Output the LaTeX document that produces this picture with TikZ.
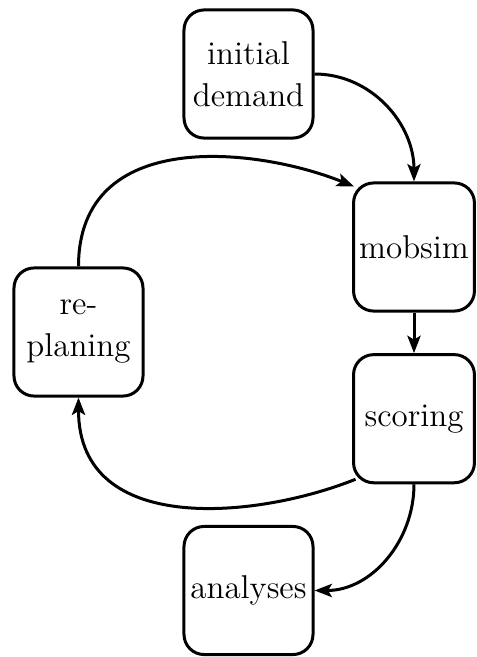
\documentclass[tikz,border=0pt]{standalone}
\usetikzlibrary{arrows.meta}
\begin{document}
\begin{tikzpicture}[x=0.3333pt,y=-0.3333pt,
  box/.style={draw, line width=1pt, rounded corners=6.7pt, align=center,
    minimum width=43pt, minimum height=42.7pt, inner sep=1pt,
    font=\fontsize{11pt}{14pt}\selectfont},
  rbox/.style={box, minimum width=40.3pt},
  conn/.style={line width=1pt, -{Stealth[length=5.8pt,width=4.4pt,inset=1.3pt]}}]
\useasboundingbox (0,0) rectangle (476,657);
\node[box]  (init)  at (248.5,74)  {initial\\demand};
\node[rbox] (mob)   at (414,247)   {mobsim};
\node[rbox] (score) at (414,418.7) {scoring};
\node[box]  (repl)  at (78.5,332)  {re-\\planing};
\node[box]  (ana)   at (248.5,590.5) {analyses};
\coordinate (mobin) at ([shift={(2,5)}]mob.north west);
\coordinate (scout) at ([shift={(3.5,-5)}]score.south west);
\draw[conn] (init) to[out=0,in=90] (mob);
\draw[conn] (mob) -- (score);
\draw[conn] (score) to[out=-90,in=0] (ana);
\draw[conn] (repl.north) .. controls +(0,-140) and +(-97,-39) .. (mobin);
\draw[conn] (scout) .. controls +(-97,39) and +(0,140) .. (repl.south);
\end{tikzpicture}
\end{document}
